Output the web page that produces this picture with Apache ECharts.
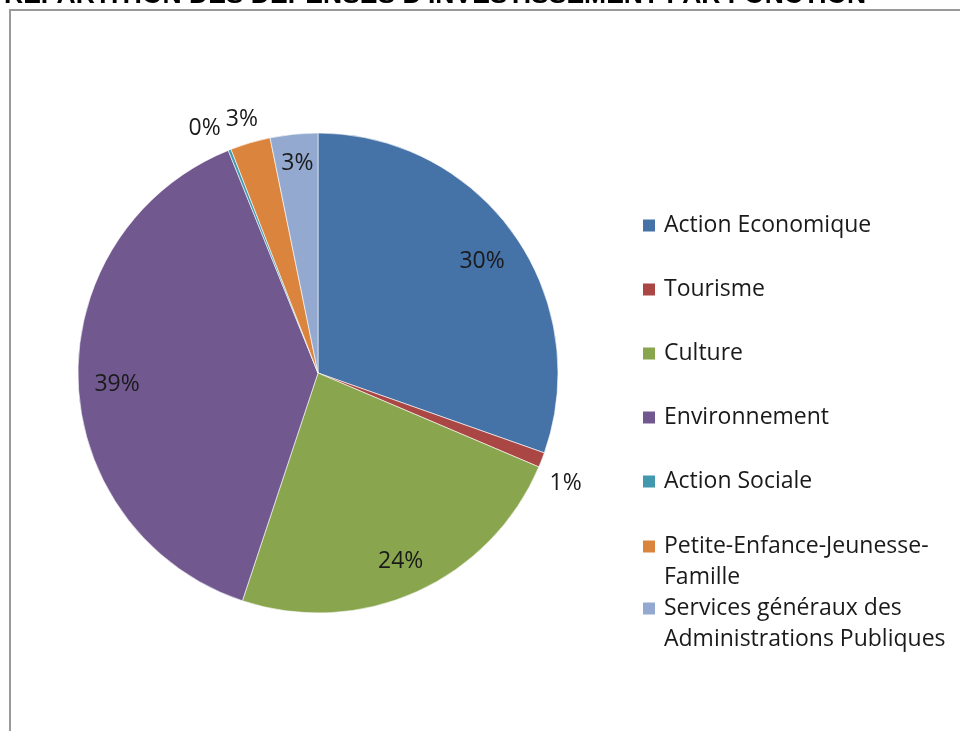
<!DOCTYPE html>
<html>
<head>
<meta charset="utf-8">
<script src="https://cdn.jsdelivr.net/npm/echarts@6/dist/echarts.min.js"></script>
<style>
html,body{margin:0;padding:0;background:#fff;}
#chart{width:960px;height:731px;}
</style>
</head>
<body>
<div id="chart"></div>
<script>
var titleText = "RÉPARTITION DES DÉPENSES D'INVESTISSEMENT PAR FONCTION";
var categories = ["Action Economique","Tourisme","Culture","Environnement","Action Sociale","Petite-Enfance-Jeunesse-Famille","Services généraux des Administrations Publiques"];
var legendLabels = ["Action Economique","Tourisme","Culture","Environnement","Action Sociale","\nPetite-Enfance-Jeunesse-\nFamille","\nServices généraux des\nAdministrations Publiques"];
var values = [30.4, 1.0, 23.7, 38.8, 0.2, 2.7, 3.2];
var colors = ["#4572A7","#AA4643","#89A54E","#71588F","#4198AF","#DB843D","#93A9CF"];
// label layer of each slice: 0 and 4 = inside ring, 1..3 = outside ring layers
var labelGroup = [0, 3, 0, 0, 2, 1, 4];

var FONT = "'Open Sans', 'DejaVu Sans', sans-serif";
var chart = echarts.init(document.getElementById('chart'));

var mainData = categories.map(function(c,i){
  return {name:c, value:values[i], itemStyle:{color:colors[i]}};
});
function overlayData(g){
  return categories.map(function(c,i){
    return {name:c, value:values[i], label:{show: labelGroup[i]===g}};
  });
}
function labelFmt(p){ return Math.round(p.percent) + '%'; }
function overlay(radius, g, offset){
  return {type:'pie', center:[318,373], radius:[0,radius], startAngle:90, clockwise:true, silent:true,
    avoidLabelOverlap:false, legendHoverLink:false, labelLayout:{hideOverlap:false},
    itemStyle:{color:'rgba(0,0,0,0)'},
    label:{position:'inside', formatter:labelFmt, color:'#1a1a1a', fontSize:23, fontFamily:FONT, offset:offset},
    labelLine:{show:false}, emphasis:{disabled:true}, data:overlayData(g)};
}

var legendText = {fontSize:23, fontFamily:FONT, color:'#1a1a1a', lineHeight:31, padding:[0,0,0,3]};
function fmtLegend(name){ return legendLabels[categories.indexOf(name)]; }
var legendBase = {orient:'vertical', left:641, padding:0, itemWidth:14, itemHeight:14, icon:'rect',
  formatter:fmtLegend, textStyle:legendText, selectedMode:false};

chart.setOption({
  animation:false,
  color: colors,
  graphic:[
    {type:'rect', z:-1, shape:{x:10, y:10, width:1000, height:1000}, style:{fill:'#fff', stroke:'#9a9a9a', lineWidth:2}},
    {type:'text', left:4, top:-18, style:{text:titleText, font:"bold 26.5px 'Liberation Sans', sans-serif", fill:'#000'}}
  ],
  legend:[
    Object.assign({}, legendBase, {top:210, itemGap:33, data:categories.slice(0,5)}),
    Object.assign({}, legendBase, {top:500, data:[categories[5]]}),
    Object.assign({}, legendBase, {top:562, data:[categories[6]]})
  ],
  series:[
    {type:'pie', center:[318,373], radius:240, startAngle:90, clockwise:true, silent:true,
     label:{show:false}, labelLine:{show:false}, emphasis:{disabled:true},
     itemStyle:{borderColor:'#ffffff', borderWidth:0.6},
     data: mainData},
    overlay(396, 0, [0,5]),
    overlay(534, 1, [0,5]),
    overlay(534, 2, [-14,6]),
    overlay(534, 3, [-4,13]),
    overlay(404, 4, [0,-6])
  ]
});
</script>
</body>
</html>
